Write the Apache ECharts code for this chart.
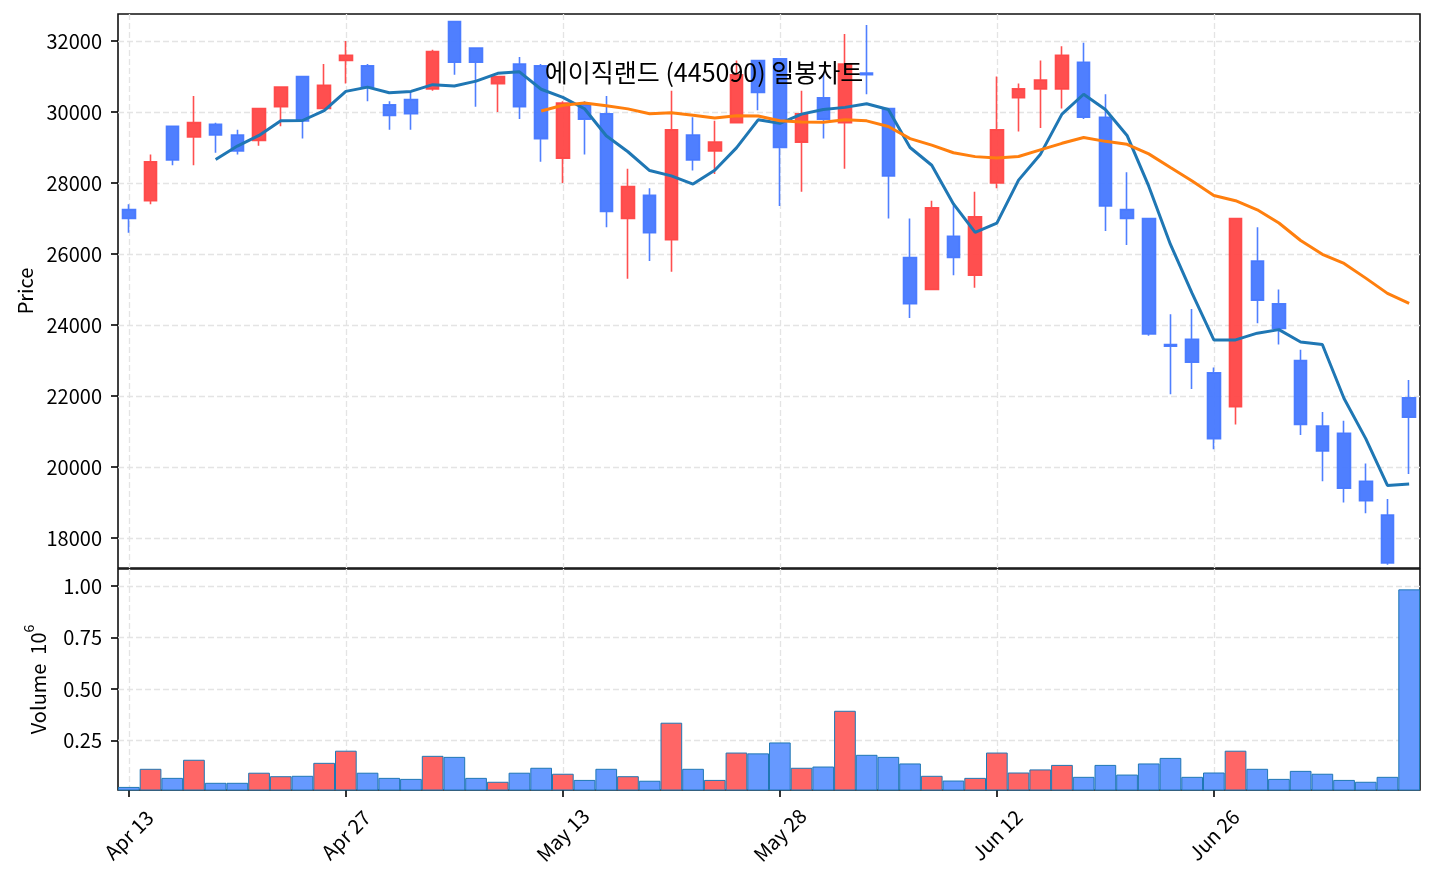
<!DOCTYPE html>
<html><head><meta charset="utf-8">
<script src="https://cdn.jsdelivr.net/npm/echarts@6/dist/echarts.min.js"></script>
<style>html,body{margin:0;padding:0;background:#fff}#c{width:1434px;height:884px}</style>
</head><body><div id="c"></div>
<script>
const dates = ['Apr 13','Apr 14','Apr 15','Apr 16','Apr 17','Apr 20','Apr 21','Apr 22','Apr 23','Apr 24','Apr 27','Apr 28','Apr 29','Apr 30',
 'May 4','May 6','May 7','May 8','May 11','May 12','May 13','May 14','May 15','May 18','May 19','May 20','May 21','May 22','May 26','May 27','May 28','May 29',
 'Jun 1','Jun 2','Jun 4','Jun 5','Jun 8','Jun 9','Jun 10','Jun 11','Jun 12','Jun 15','Jun 16','Jun 17','Jun 18','Jun 19','Jun 22','Jun 23','Jun 24','Jun 25','Jun 26','Jun 29','Jun 30',
 'Jul 1','Jul 2','Jul 3','Jul 6','Jul 7','Jul 8','Jul 9'];
const opens  = [27250,27500,29600,29300,29650,29350,29200,30150,31000,30100,31450,31300,30200,30350,30650,32550,31800,30800,31350,31300,
                28700,30200,29950,27000,27650,26400,29350,28900,29700,31450,31500,29150,30400,29700,31100,30100,25900,25000,26500,25400,
                28000,30400,30650,30650,31400,29850,27250,27000,23450,23600,22650,21700,25800,24600,23000,21150,20950,19600,18650,21950];
const highs  = [27400,28800,29600,30450,29700,29500,30100,30700,31000,31350,32000,31350,30300,30550,31750,32550,31800,31000,31550,31350,
                30300,30300,30450,28400,27850,30600,29850,29750,31450,31450,31500,30600,31100,32200,32450,30100,27000,27500,27400,27750,
                31000,30800,31450,31850,31950,30500,28300,27000,24300,24450,22800,27000,26750,25000,23300,21550,21300,20100,19100,22450];
const lows   = [26600,27400,28500,28500,28850,28800,29050,29600,29250,30100,30800,30300,29500,29500,30600,31050,30150,30000,29800,28600,
                28000,28800,26750,25300,25800,25500,28350,28250,29700,30050,27350,27750,29250,28400,30500,27000,24200,25000,25400,25050,
                27850,29450,29550,30100,29800,26650,26250,23700,22050,22200,20500,21200,24050,23450,20900,19600,19000,18700,17250,19800];
const closes = [27000,28600,28650,29700,29350,28900,30100,30700,29750,30750,31600,30700,29900,29950,31700,31400,31400,31000,30150,29250,
                30250,29800,27200,27900,26600,29500,28650,29150,31050,30550,29000,29950,29800,31350,31050,28200,24600,27300,25900,27050,
                29500,30650,30900,31600,29850,27350,27000,23750,23400,22950,20800,27000,24700,23900,21200,20450,19400,19050,17300,21400];
const volumes = [24000,112000,68000,156000,44000,44000,93000,76000,78000,141000,200000,93000,68000,63000,175000,170000,68000,49000,93000,117000,
                 88000,58000,112000,76000,54000,336000,112000,58000,191000,187000,240000,117000,123000,394000,180000,170000,138000,78000,55000,68000,
                 191000,94000,109000,131000,73000,131000,84000,138000,165000,73000,94000,200000,112000,63000,102000,88000,58000,49000,73000,984000];
const priceTicks = [18000,20000,22000,24000,26000,28000,30000,32000];
const volumeTicks = [250000,500000,750000,1000000];
const titleText = '에이직랜드 (445090) 일봉차트';

function movingAverage(arr, n) {
  return arr.map((v, i) => {
    if (i < n - 1) return null;
    let s = 0;
    for (let k = i - n + 1; k <= i; k++) s += arr[k];
    return +(s / n).toFixed(1);
  });
}
const ma5 = movingAverage(closes, 5);
const ma20 = movingAverage(closes, 20);

const FONT = "'Noto Sans CJK KR', 'Noto Sans', sans-serif";
const UP = '#ff4646', DOWN = '#4678ff';
const gridLine = { show: true, lineStyle: { type: [6, 3], color: '#e4e4e4', width: 1.3 } };
const labelEvery10 = (idx) => idx % 10 === 0;

const chart = echarts.init(document.getElementById('c'), null, { renderer: 'canvas' });
chart.setOption({
  animation: false,
  backgroundColor: '#fff',
  textStyle: { fontFamily: FONT },
  graphic: [{
    type: 'text', z: 100,
    style: { text: titleText, x: 704, y: 72, fontSize: 25, fontFamily: FONT, fill: '#000', align: 'center', verticalAlign: 'middle' }
  }],
  grid: [
    { left: 118, top: 14, width: 1302, height: 554, show: true, borderColor: '#111', borderWidth: 1.6, backgroundColor: 'transparent' },
    { left: 118, top: 569, width: 1302, height: 221, show: true, borderColor: '#111', borderWidth: 1.6, backgroundColor: 'transparent' }
  ],
  xAxis: [
    { type: 'category', gridIndex: 0, data: dates, boundaryGap: true,
      axisLine: { show: false }, axisTick: { show: false }, axisLabel: { show: false },
      splitLine: Object.assign({ interval: labelEvery10, alignWithLabel: true }, gridLine) },
    { type: 'category', gridIndex: 1, data: dates, boundaryGap: true,
      axisLine: { show: false },
      axisTick: { show: true, interval: labelEvery10, alignWithLabel: true, length: 7, lineStyle: { color: '#000', width: 1.6 } },
      axisLabel: { interval: labelEvery10, rotate: 45, align: 'center', verticalAlign: 'middle', margin: 45,
                   fontSize: 20, color: '#000', fontFamily: FONT },
      splitLine: Object.assign({ interval: labelEvery10, alignWithLabel: true }, gridLine) }
  ],
  yAxis: [
    { type: 'value', gridIndex: 0, min: 17155, max: 32760, splitNumber: 8, minInterval: 2000, maxInterval: 2000, scale: true,
      name: 'Price', nameLocation: 'middle', nameGap: 80,
      nameTextStyle: { fontSize: 20, color: '#000', fontFamily: FONT },
      axisLine: { show: false },
      axisTick: { show: true, length: 7, customValues: priceTicks, lineStyle: { color: '#000', width: 1.6 } },
      axisLabel: { margin: 16, fontSize: 20, color: '#000', fontFamily: FONT, customValues: priceTicks,
                   formatter: (v) => String(Math.round(v)) },
      splitLine: gridLine },
    { type: 'value', gridIndex: 1, min: 9000, max: 1083000, splitNumber: 4, minInterval: 250000, maxInterval: 250000,
      name: '{a|Volume  10}{b|6}', nameLocation: 'middle', nameGap: 70,
      nameTextStyle: { color: '#000', fontFamily: FONT,
        rich: { a: { fontSize: 20, lineHeight: 26, verticalAlign: 'bottom', fontFamily: FONT, color: '#000' },
                b: { fontSize: 14, lineHeight: 14, verticalAlign: 'top', fontFamily: FONT, color: '#000' } } },
      axisLine: { show: false },
      axisTick: { show: true, length: 7, customValues: volumeTicks, lineStyle: { color: '#000', width: 1.6 } },
      axisLabel: { margin: 16, fontSize: 20, color: '#000', fontFamily: FONT, customValues: volumeTicks,
                   formatter: (v) => (v / 1e6).toFixed(2) },
      splitLine: gridLine }
  ],
  series: [
    { type: 'candlestick', name: 'OHLC', xAxisIndex: 0, yAxisIndex: 0, barWidth: 13, z: 3,
      data: dates.map((d, i) => [opens[i], closes[i], lows[i], highs[i]]),
      itemStyle: { color: UP, color0: DOWN, borderColor: UP, borderColor0: DOWN, borderWidth: 1.6, opacity: 0.95 } },
    { type: 'line', name: 'MA5', xAxisIndex: 0, yAxisIndex: 0, data: ma5, showSymbol: false, symbol: 'none', z: 5,
      lineStyle: { color: '#1f77b4', width: 3 } },
    { type: 'line', name: 'MA20', xAxisIndex: 0, yAxisIndex: 0, data: ma20, showSymbol: false, symbol: 'none', z: 5,
      lineStyle: { color: '#ff7f0e', width: 3 } },
    { type: 'bar', name: 'Volume', xAxisIndex: 1, yAxisIndex: 1, barWidth: '100%', barCategoryGap: 0, z: 3,
      data: volumes.map((v, i) => ({ value: v, itemStyle: { color: closes[i] >= opens[i] ? '#ff6666' : '#6699ff' } })),
      itemStyle: { borderColor: '#1f77b4', borderWidth: 1 } }
  ]
});
</script>
</body></html>
